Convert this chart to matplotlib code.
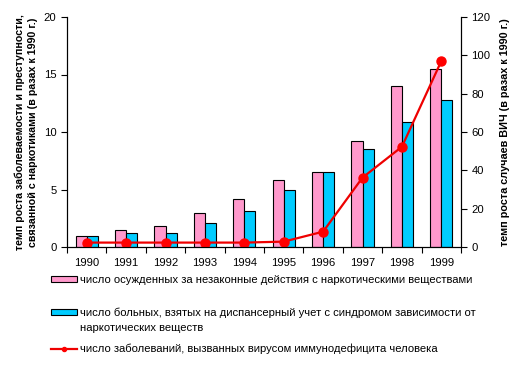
import numpy as np
import matplotlib.pyplot as plt
from matplotlib.ticker import MultipleLocator, FixedLocator

plt.rcParams['font.family'] = ['Liberation Sans', 'DejaVu Sans']

years = ['1990', '1991', '1992', '1993', '1994', '1995', '1996', '1997', '1998', '1999']
convicted = [1.0, 1.5, 1.85, 3.0, 4.2, 5.85, 6.5, 9.2, 14.0, 15.5]
registered = [1.0, 1.25, 1.25, 2.1, 3.15, 5.0, 6.5, 8.5, 10.9, 12.8]
hiv = [2.3, 2.3, 2.3, 2.3, 2.3, 2.8, 8.0, 36.2, 52.3, 97.0]

label_conv = 'число осужденных за незаконные действия с наркотическими веществами'
label_reg = 'число больных, взятых на диспансерный учет с синдромом зависимости от'
label_reg2 = 'наркотических веществ'
label_hiv = 'число заболеваний, вызванных вирусом иммунодефицита человека'

fs = 8.1

fig = plt.figure(figsize=(5.15, 3.78), dpi=100)
ax = fig.add_axes([67 / 515, 1 - 247 / 378, (461 - 67) / 515, (247 - 17) / 378])
ax2 = ax.twinx()

x = np.arange(len(years))
w = 0.28
b1 = ax.bar(x - w / 2, convicted, w, color='#ff99cc', edgecolor='black', linewidth=0.8, label=label_conv)
b2 = ax.bar(x + w / 2, registered, w, color='#00ccff', edgecolor='black', linewidth=0.8, label=label_reg)
l1, = ax2.plot(x, hiv, color='#ee0000', linewidth=1.6, marker='o', markersize=6.5,
               markerfacecolor='#ff0000', markeredgecolor='#ff0000', label=label_hiv)

ax.set_xlim(-0.5, len(years) - 0.5)
ax.set_ylim(0, 20)
ax2.set_ylim(0, 120)
ax.yaxis.set_major_locator(MultipleLocator(5))
ax2.yaxis.set_major_locator(MultipleLocator(20))

ax.set_xticks(x)
ax.set_xticklabels(years)
ax.xaxis.set_minor_locator(FixedLocator(np.arange(-0.5, len(years), 1.0)))
ax.tick_params(axis='x', which='major', length=0, labelsize=fs, pad=8)
ax.tick_params(axis='x', which='minor', length=4, width=0.8, direction='out')
ax.tick_params(axis='y', labelsize=fs, length=4, width=0.8, direction='out')
ax2.tick_params(axis='y', labelsize=fs, length=4, width=0.8, direction='out')

for a in (ax, ax2):
    a.spines['top'].set_visible(False)
    for s in ('left', 'right', 'bottom'):
        a.spines[s].set_linewidth(0.8)

ax.set_ylabel('темп роста заболеваемости и преступности,\nсвязанной с наркотиками (в разах к 1990 г.)',
              fontsize=7.7, fontweight='bold', labelpad=4, linespacing=1.45)
ax2.set_ylabel('темп роста случаев ВИЧ (в разах к 1990 г.)', fontsize=7.8, fontweight='bold', labelpad=7)

# legend entries placed one by one, like the excel layout
for handle, ypix in [(b1, 280), (b2, 313), (l1, 349)]:
    fig.legend(handles=[handle], loc='center left', bbox_to_anchor=(51 / 515, 1 - ypix / 378),
               frameon=False, fontsize=fs, handlelength=2.3, handleheight=0.5, handletextpad=0.25,
               borderpad=0, borderaxespad=0, markerscale=0.45)
fig.text(80 / 515, 1 - 328 / 378, label_reg2, fontsize=fs, va='center', ha='left')

fig.savefig('out.png', dpi=100)
